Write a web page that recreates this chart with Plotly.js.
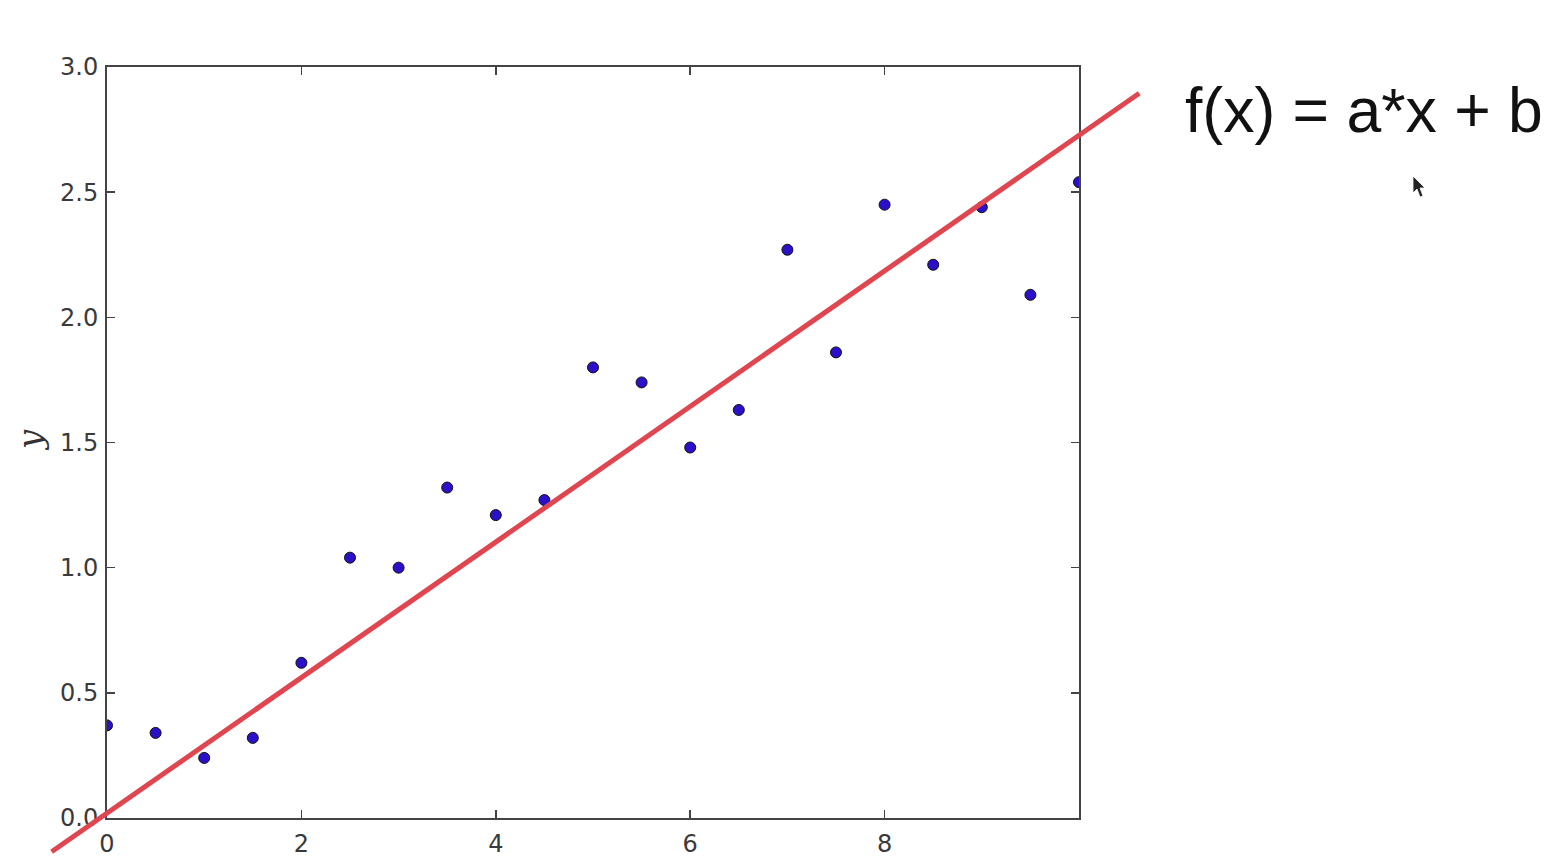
<!DOCTYPE html>
<html>
<head>
<meta charset="utf-8">
<script src="https://cdn.plot.ly/plotly-3.0.1.min.js"></script>
<style>html,body{margin:0;padding:0;background:#fff;}#chart{width:1547px;height:857px;}</style>
</head>
<body>
<div id="chart"></div>
<script>
// ---- data ----
const xValues = [0, 0.5, 1, 1.5, 2, 2.5, 3, 3.5, 4, 4.5, 5, 5.5, 6, 6.5, 7, 7.5, 8, 8.5, 9, 9.5, 10];
const yValues = [0.37, 0.34, 0.24, 0.32, 0.62, 1.04, 1.00, 1.32, 1.21, 1.27, 1.80, 1.74, 1.48, 1.63, 2.27, 1.86, 2.45, 2.21, 2.44, 2.09, 2.54];
// fitted line endpoints (the line runs past the frame)
const fitX = [-0.57, 10.62];
const fitY = [-0.135, 2.895];
const xTickVals = [0, 2, 4, 6, 8, 10];
const xTickText = ['0', '2', '4', '6', '8', ''];
const yTickVals = [0, 0.5, 1, 1.5, 2, 2.5, 3];
const yTickText = ['0.0', '0.5', '1.0', '1.5', '2.0', '2.5', '3.0'];
const formulaText = 'f(x) = a*x + b';
const yLabel = 'y';

// ---- geometry ----
const W = 1547, H = 857;
const frame = {left: 107, right: 1079, top: 67, bottom: 818};
const xRange = [0, 10], yRange = [0, 3];
const xDom = [frame.left / W, frame.right / W];
const yDom = [(H - frame.bottom) / H, (H - frame.top) / H];
// full-figure axes with the same scale, so the fit line can run beyond the frame
const xPer = (xRange[1] - xRange[0]) / (frame.right - frame.left);
const yPer = (yRange[1] - yRange[0]) / (frame.bottom - frame.top);
const x2Range = [xRange[0] - frame.left * xPer, xRange[0] + (W - frame.left) * xPer];
const y2Range = [yRange[0] - (H - frame.bottom) * yPer, yRange[1] + frame.top * yPer];

const px = (x) => x / W, py = (y) => (H - y) / H;

const axisCommon = {
  showgrid: false, zeroline: false, showline: true, mirror: 'ticks',
  linecolor: '#444', linewidth: 2, ticks: 'inside', ticklen: 8, tickwidth: 1.5,
  tickcolor: '#444', fixedrange: true,
  tickfont: {family: 'DejaVu Sans', size: 24, color: '#3a3a3a'}
};

const traces = [
  {
    x: xValues, y: yValues, type: 'scatter', mode: 'markers',
    xaxis: 'x', yaxis: 'y', cliponaxis: true,
    marker: {size: 11, color: '#2a10c8', line: {color: '#111', width: 1}},
    hoverinfo: 'skip'
  },
  {
    x: fitX, y: fitY, type: 'scatter', mode: 'lines',
    xaxis: 'x2', yaxis: 'y2',
    line: {color: '#e0464f', width: 5},
    hoverinfo: 'skip'
  }
];

const cursor = [[1413,176],[1413,193],[1417,189],[1420,197],[1423,196],[1420,188],[1425,188]];
const cursorPath = 'M ' + cursor.map(p => px(p[0]) + ',' + py(p[1])).join(' L ') + ' Z';

const layout = {
  width: W, height: H,
  margin: {l: 0, r: 0, t: 0, b: 0, pad: 0},
  paper_bgcolor: '#ffffff', plot_bgcolor: 'rgba(0,0,0,0)',
  showlegend: false,
  xaxis: Object.assign({}, axisCommon, {
    domain: xDom, range: xRange, anchor: 'y',
    tickmode: 'array', tickvals: xTickVals, ticktext: xTickText, ticklabelstandoff: 3
  }),
  yaxis: Object.assign({}, axisCommon, {
    domain: yDom, range: yRange, anchor: 'x',
    tickmode: 'array', tickvals: yTickVals, ticktext: yTickText, ticklabelstandoff: 2
  }),
  xaxis2: {domain: [0, 1], range: x2Range, anchor: 'y2', visible: false, fixedrange: true},
  yaxis2: {domain: [0, 1], range: y2Range, anchor: 'x2', visible: false, fixedrange: true},
  annotations: [
    {
      xref: 'paper', yref: 'paper', x: px(1183), y: py(110),
      xanchor: 'left', yanchor: 'middle', showarrow: false,
      text: formulaText,
      font: {family: 'Liberation Sans, Arial, sans-serif', size: 62.5, color: '#111'}
    },
    {
      xref: 'paper', yref: 'paper', x: px(30), y: py(440),
      xanchor: 'center', yanchor: 'middle', showarrow: false, textangle: -90,
      text: '<i>' + yLabel + '</i>',
      font: {family: 'DejaVu Serif', size: 34, color: '#333'}
    }
  ],
  shapes: [
    {type: 'path', xref: 'paper', yref: 'paper', path: cursorPath,
     fillcolor: '#222', line: {color: '#fff', width: 0.8}}
  ]
};

Plotly.newPlot('chart', traces, layout, {displayModeBar: false, staticPlot: true});
</script>
</body>
</html>
